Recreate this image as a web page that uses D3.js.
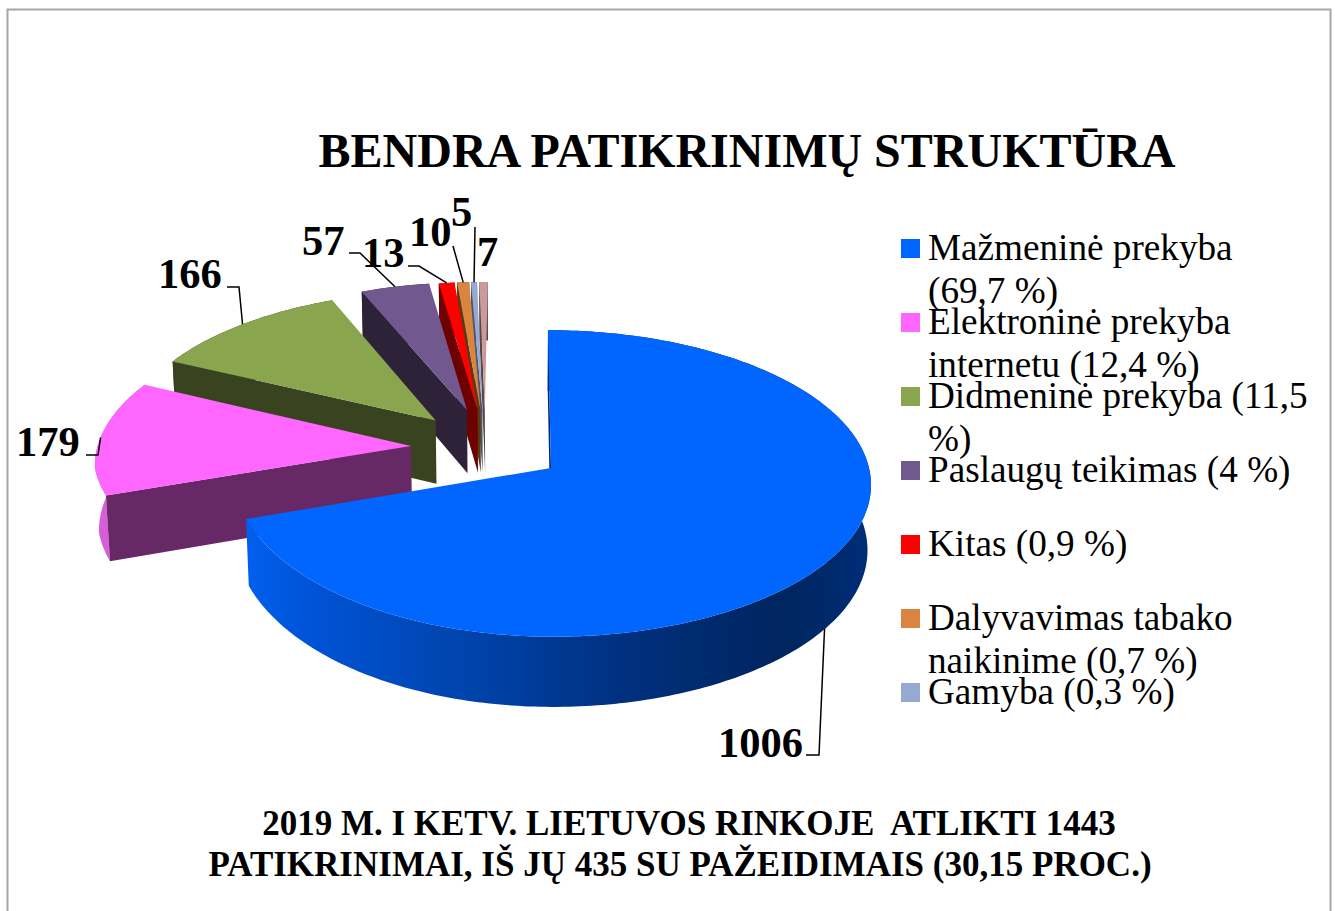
<!DOCTYPE html>
<html><head><meta charset="utf-8">
<script src="https://cdn.jsdelivr.net/npm/d3@7/dist/d3.min.js"></script>
<style>html,body{margin:0;padding:0;background:#fff;overflow:hidden}svg{display:block}text{font-family:"Liberation Serif",serif;fill:#000;white-space:pre}</style>
</head><body><svg id="c" width="1335" height="911"></svg>
<script>
// ---- data ----
const titleText = "BENDRA PATIKRINIMŲ STRUKTŪRA";
const footerLines = ["2019 M. I KETV. LIETUVOS RINKOJE  ATLIKTI 1443", "PATIKRINIMAI, IŠ JŲ 435 SU PAŽEIDIMAIS (30,15 PROC.)"];
const categories = ["Mažmeninė prekyba","Elektroninė prekyba internetu","Didmeninė prekyba","Paslaugų teikimas","Kitas","Dalyvavimas tabako naikinime","Gamyba","Kita"];
const values = [1006,179,166,57,13,10,5,7];
const legendLines = [["Mažmeninė prekyba","(69,7 %)"],["Elektroninė prekyba","internetu (12,4 %)"],["Didmeninė prekyba (11,5","%)"],["Paslaugų teikimas (4 %)"],["Kitas (0,9 %)"],["Dalyvavimas tabako","naikinime (0,7 %)"],["Gamyba (0,3 %)"]];
// ---- styles ----
const topColors  = ["#0066ff","#ff66ff","#89a54e","#71588f","#ff0000","#d9853f","#95a9d1","#cc9a9a"];
const wallColors = ["#002a70","#662966","#39431f","#2d2238","#6e0000","#5a3a14","#4a5570","#5c4545"];
const outerColors= ["url(#mainWall)","#d75ed7","#39431f","#2d2238","#6e0000","#5a3a14","#4a5570","#5c4545"];
const mainWallStops = [[0,"#0060ee"],[.09,"#0054d8"],[.35,"#0044ac"],[.62,"#002f7c"],[.86,"#00255f"],[1,"#002d78"]];
// ---- layout ----
const W=1335,H=911, vpX=518, cy=468, R=318, k=.000317, kFront=.00012, m=.00015, T=.477, depth=65.5;
const explodeX=[0,-141.6,-118,-86,-75,-72,-70,-67.5];
const explodeY=[0,46.9,103,126,126.7,126.7,126.7,126.7];
const labelX=[718,16,158,302,362,409,451,477], labelY=[757,456,288,255,267,246,226,266];
// leaders: [slice the line reaches, fixed label-side points]
const leaders=[[0,[[806,755],[819,755]]],[1,[[86,455],[98,455]]],[2,[[227,287],[239,287]]],[3,[[349,253],[360,253]]],[4,[[408,266],[419,266]]],[5,[[453,246]]],[6,[[475,227]]]];
const legendX=901, swatch=19, legendTop=239, legendStep=74, legendLine=43, legendFont=37.2;

const svg=d3.select("#c");
function project(X,Y,Z){
 const s=1/(1+k*Y+m*Z);
 const side=Math.max(0,Math.min(1,(X+R)/(2*R)));          // front edge widens more on the right side
 const kx=Y<0?kFront+(k-kFront)*Math.sqrt(side):k;
 const sx=1/(1+kx*Y+m*Z);
 return [vpX+(X+33)*sx, cy-T*Y*s+Z*s];
}
const arcs=d3.pie().sort(null).value(d=>d)(values);
const color=d3.scaleOrdinal(d3.range(values.length),topColors);
const wall=d3.scaleOrdinal(d3.range(values.length),wallColors);
const outer=d3.scaleOrdinal(d3.range(values.length),outerColors);
const path=d3.line();
function pt(i,a,t,Z){return project(explodeX[i]+t*R*Math.sin(a),explodeY[i]+t*R*Math.cos(a),Z);}
function arcPts(i,a0,a1,Z){const n=Math.max(2,Math.ceil((a1-a0)*60));return d3.range(n+1).map(j=>pt(i,a0+(a1-a0)*j/n,1,Z));}

const defs=svg.append("defs");
const mainEdge=arcPts(0,arcs[0].startAngle,arcs[0].endAngle,0);
const grad=defs.append("linearGradient").attr("id","mainWall").attr("gradientUnits","userSpaceOnUse")
 .attr("x1",d3.min(mainEdge,p=>p[0])).attr("x2",d3.max(mainEdge,p=>p[0])).attr("y1",0).attr("y2",0);
mainWallStops.forEach(s=>grad.append("stop").attr("offset",s[0]).attr("stop-color",s[1]));

// frame
svg.append("path").attr("d",path([[7.5,H+2],[7.5,9.5],[1330.5,9.5],[1330.5,H+2]])).attr("fill","none").attr("stroke","#a6a6a6").attr("stroke-width",2);

const leaderG=svg.append("g");
const sliceG=svg.append("g");
const leaderTopG=svg.append("g");

function drawLeader(g,l){const i=l[0],a=(arcs[i].startAngle+arcs[i].endAngle)/2;
 g.append("path").attr("d",path([...l[1],pt(i,a,1,0)])).attr("fill","none").attr("stroke","#000").attr("stroke-width",1.5);}
leaders.forEach(l=>drawLeader(l[0]===0?leaderG:leaderTopG,l));

// paint slices back to front: narrow ones first, the large one last
d3.range(values.length-1,-1,-1).forEach(i=>{
 const d=arcs[i],g=sliceG.append("g");
 const rim=arcPts(i,d.startAngle,d.endAngle,0), rimLow=arcPts(i,d.startAngle,d.endAngle,depth);
 const apex=pt(i,0,0,0), apexLow=pt(i,0,0,depth);
 g.append("path").attr("d",path([...rim,...rimLow.reverse()])+"Z").attr("fill",outer(i));
 g.append("path").attr("d",path([rim[0],apex,apexLow,pt(i,d.startAngle,1,depth)])+"Z").attr("fill",wall(i));
 g.append("path").attr("d",path([apex,...rim])+"Z").attr("fill",color(i));
});

// value labels
values.forEach((v,i)=>svg.append("text").attr("x",labelX[i]).attr("y",labelY[i]).attr("font-size",42.5).attr("font-weight","bold").text(v));

// title and footer
svg.append("text").attr("x",747).attr("y",167).attr("text-anchor","middle").attr("font-size",48).attr("font-weight","bold").text(titleText);
[[689,835],[680,876]].forEach((p,i)=>svg.append("text").attr("x",p[0]).attr("y",p[1]).attr("text-anchor","middle").attr("font-size",35).attr("font-weight","bold").text(footerLines[i]));

// legend
legendLines.forEach((lines,i)=>{
 const y=legendTop+i*legendStep;
 svg.append("rect").attr("x",legendX).attr("y",y).attr("width",swatch).attr("height",swatch).attr("fill",color(i));
 lines.forEach((t,j)=>svg.append("text").attr("x",928).attr("y",y+21+j*legendLine).attr("font-size",legendFont).text(t));
});
</script></body></html>
